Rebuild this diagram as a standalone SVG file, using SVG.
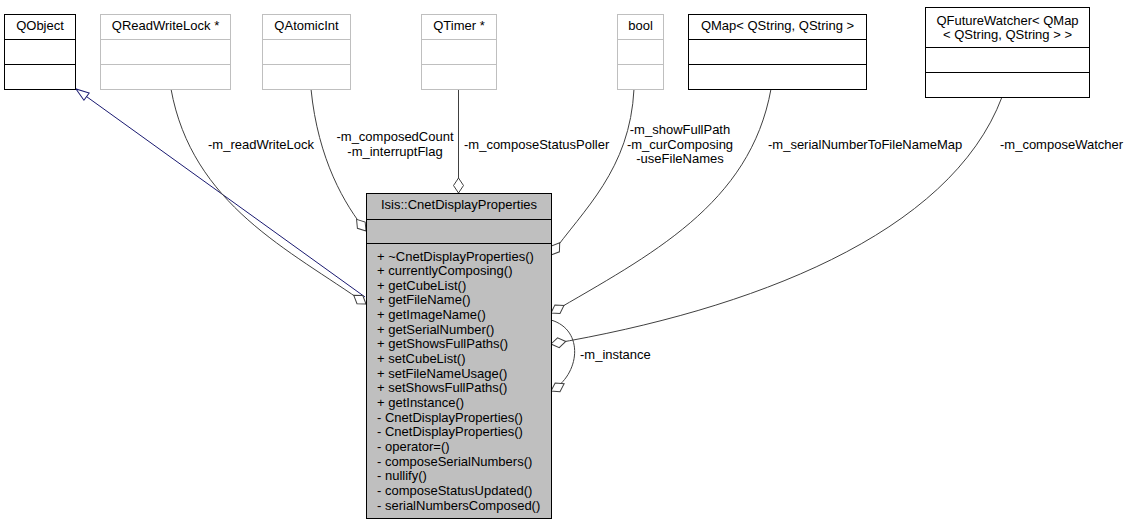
<svg xmlns="http://www.w3.org/2000/svg" width="1129" height="525" viewBox="0 0 1129 525">
<style>
.t{font-family:"Liberation Sans",Arial,Helvetica,sans-serif;font-size:13px;fill:#000}
.m{text-anchor:middle}
.bk{fill:#fff;stroke:#000;stroke-width:1}
.gr{fill:#fff;stroke:#bfbfbf;stroke-width:1}
.main{fill:#bfbfbf;stroke:#000;stroke-width:1}
.dk{stroke:#000;stroke-width:1}
.lg{stroke:#bfbfbf;stroke-width:1}
.e{fill:none;stroke:#404040;stroke-width:1}
.inh{fill:none;stroke:#191970;stroke-width:1}
</style>
<defs>
<marker id="dia" markerUnits="userSpaceOnUse" viewBox="-2 -7 20 14" markerWidth="20" markerHeight="14" refX="0" refY="0" orient="auto">
<path d="M0,0 L7.5,-5 L15,0 L7.5,5 Z" fill="#fff" stroke="#404040" stroke-width="1"/>
</marker>
<marker id="tri" markerUnits="userSpaceOnUse" viewBox="-16 -7 18 14" markerWidth="18" markerHeight="14" refX="0" refY="0" orient="auto">
<path d="M0,0 L-13,-4.5 L-13,4.5 Z" fill="#fff" stroke="#191970" stroke-width="1"/>
</marker>
</defs>
<rect width="1129" height="525" fill="#fff"/>

<g id="connectors">
<path class="inh" d="M365,297 L76,89" marker-end="url(#tri)"/>
<path class="e" d="M366,304 C290,250 192,205 171,89" marker-start="url(#dia)"/>
<path class="e" d="M366,231 C345,205 318,160 311,89" marker-start="url(#dia)"/>
<path class="e" d="M458.5,193 L458.5,89" marker-start="url(#dia)"/>
<path class="e" d="M551,255 C583,210 630,170 634,89" marker-start="url(#dia)"/>
<path class="e" d="M551,313 C650,255 750,205 771,89" marker-start="url(#dia)"/>
<path class="e" d="M551,344 C750,310 950,235 1002,97" marker-start="url(#dia)"/>
<path class="e" d="M551,391 C580,375 585,330 551,320" marker-start="url(#dia)"/>
<text class="t" x="208" y="149">-m_readWriteLock</text>
<text class="t m" x="395" y="141">-m_composedCount</text>
<text class="t m" x="395" y="156">-m_interruptFlag</text>
<text class="t" x="464" y="149">-m_composeStatusPoller</text>
<text class="t m" x="680" y="134">-m_showFullPath</text>
<text class="t m" x="680" y="149">-m_curComposing</text>
<text class="t m" x="680" y="163">-useFileNames</text>
<text class="t" x="768" y="149">-m_serialNumberToFileNameMap</text>
<text class="t" x="1000" y="149">-m_composeWatcher</text>
<text class="t" x="580" y="359">-m_instance</text>
</g>

<g id="QObject">
<rect class="bk" x="4.5" y="14.5" width="71" height="75"/>
<line class="dk" x1="4.5" y1="39.5" x2="75.5" y2="39.5"/>
<line class="dk" x1="4.5" y1="64.5" x2="75.5" y2="64.5"/>
<text class="t m" x="40" y="30">QObject</text>
</g>

<g id="QReadWriteLock">
<rect class="gr" x="100.5" y="14.5" width="130" height="75"/>
<line class="lg" x1="100.5" y1="39.5" x2="230.5" y2="39.5"/>
<line class="lg" x1="100.5" y1="64.5" x2="230.5" y2="64.5"/>
<text class="t m" x="165.5" y="30">QReadWriteLock *</text>
</g>

<g id="QAtomicInt">
<rect class="gr" x="262.5" y="14.5" width="88" height="75"/>
<line class="lg" x1="262.5" y1="39.5" x2="350.5" y2="39.5"/>
<line class="lg" x1="262.5" y1="64.5" x2="350.5" y2="64.5"/>
<text class="t m" x="306.5" y="30">QAtomicInt</text>
</g>

<g id="QTimer">
<rect class="gr" x="421.5" y="14.5" width="75" height="75"/>
<line class="lg" x1="421.5" y1="39.5" x2="496.5" y2="39.5"/>
<line class="lg" x1="421.5" y1="64.5" x2="496.5" y2="64.5"/>
<text class="t m" x="459" y="30">QTimer *</text>
</g>

<g id="bool">
<rect class="gr" x="617.5" y="14.5" width="46" height="75"/>
<line class="lg" x1="617.5" y1="39.5" x2="663.5" y2="39.5"/>
<line class="lg" x1="617.5" y1="64.5" x2="663.5" y2="64.5"/>
<text class="t m" x="640.5" y="30">bool</text>
</g>

<g id="QMap">
<rect class="bk" x="688.5" y="14.5" width="178" height="75"/>
<line class="dk" x1="688.5" y1="39.5" x2="866.5" y2="39.5"/>
<line class="dk" x1="688.5" y1="64.5" x2="866.5" y2="64.5"/>
<text class="t m" x="777.5" y="30">QMap&lt; QString, QString &gt;</text>
</g>

<g id="QFutureWatcher">
<rect class="bk" x="925.5" y="7.5" width="164" height="90"/>
<line class="dk" x1="925.5" y1="47.5" x2="1089.5" y2="47.5"/>
<line class="dk" x1="925.5" y1="72.5" x2="1089.5" y2="72.5"/>
<text class="t m" x="1007.5" y="25">QFutureWatcher&lt; QMap</text>
<text class="t m" x="1007.5" y="39">&lt; QString, QString &gt; &gt;</text>
</g>

<g id="CnetDisplayProperties">
<rect class="main" x="366.5" y="193.5" width="185" height="325"/>
<line class="dk" x1="366.5" y1="219.5" x2="551.5" y2="219.5"/>
<line class="dk" x1="366.5" y1="243.5" x2="551.5" y2="243.5"/>
<text class="t m" x="459" y="208.5">Isis::CnetDisplayProperties</text>
<text class="t" x="377" y="260.5">
<tspan x="377" dy="0">+ ~CnetDisplayProperties()</tspan>
<tspan x="377" dy="14.65">+ currentlyComposing()</tspan>
<tspan x="377" dy="14.65">+ getCubeList()</tspan>
<tspan x="377" dy="14.65">+ getFileName()</tspan>
<tspan x="377" dy="14.65">+ getImageName()</tspan>
<tspan x="377" dy="14.65">+ getSerialNumber()</tspan>
<tspan x="377" dy="14.65">+ getShowsFullPaths()</tspan>
<tspan x="377" dy="14.65">+ setCubeList()</tspan>
<tspan x="377" dy="14.65">+ setFileNameUsage()</tspan>
<tspan x="377" dy="14.65">+ setShowsFullPaths()</tspan>
<tspan x="377" dy="14.65">+ getInstance()</tspan>
<tspan x="377" dy="14.65">- CnetDisplayProperties()</tspan>
<tspan x="377" dy="14.65">- CnetDisplayProperties()</tspan>
<tspan x="377" dy="14.65">- operator=()</tspan>
<tspan x="377" dy="14.65">- composeSerialNumbers()</tspan>
<tspan x="377" dy="14.65">- nullify()</tspan>
<tspan x="377" dy="14.65">- composeStatusUpdated()</tspan>
<tspan x="377" dy="14.65">- serialNumbersComposed()</tspan>
</text>
</g>
</svg>
